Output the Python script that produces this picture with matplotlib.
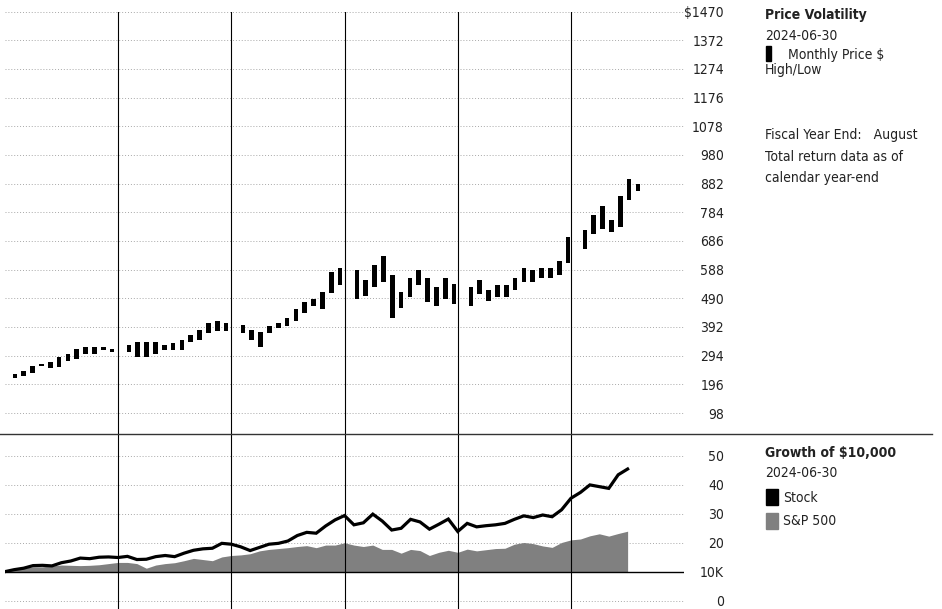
import matplotlib
matplotlib.use("Agg")
import matplotlib.pyplot as plt
from matplotlib.lines import Line2D
from matplotlib.patches import Rectangle
from matplotlib import font_manager
import numpy as np

# narrow face if present, else condensed DejaVu
_names = {f.name for f in font_manager.fontManager.ttflist}
if 'Liberation Sans Narrow' in _names:
    plt.rcParams['font.family'] = ['Liberation Sans Narrow', 'DejaVu Sans']
else:
    plt.rcParams['font.family'] = ['DejaVu Sans']
    plt.rcParams['font.stretch'] = 'condensed'

# monthly price high/low, Jan 2019 .. Jul 2024
price_high = [232, 240, 260, 267, 271, 288, 301, 318, 325, 322, 325, 318,
              332, 342, 342, 342, 332, 336, 349, 366, 383, 404, 411, 407,
              400, 380, 376, 394, 407, 421, 452, 479, 489, 513, 581, 592,
              588, 554, 605, 633, 568, 510, 561, 585, 561, 530, 561, 540,
              530, 551, 520, 534, 534, 561, 592, 588, 592, 595, 619, 701,
              725, 773, 807, 759, 841, 896, 879]
price_low = [217, 224, 234, 258, 251, 255, 277, 281, 301, 298, 312, 305,
             305, 288, 291, 298, 312, 312, 315, 339, 349, 370, 377, 377,
             370, 346, 325, 370, 387, 394, 411, 441, 462, 452, 507, 534,
             486, 499, 530, 547, 424, 458, 496, 537, 479, 465, 489, 469,
             465, 503, 482, 496, 493, 520, 544, 547, 558, 558, 568, 609,
             657, 711, 728, 715, 735, 827, 858]

# growth of 10,000 (thousands), month-end from Dec 2018 to Jun 2024
stock = [10.0, 10.7, 11.2, 12.1, 12.2, 12.0, 13.1, 13.7, 14.7, 14.5, 15.0, 15.1,
         14.9, 15.3, 14.2, 14.3, 15.2, 15.6, 15.2, 16.4, 17.4, 17.9, 18.1, 19.8,
         19.5, 18.6, 17.3, 18.4, 19.5, 19.8, 20.6, 22.5, 23.6, 23.3, 25.8, 27.9,
         29.4, 26.2, 26.9, 29.9, 27.5, 24.4, 25.0, 28.1, 27.2, 24.7, 26.4, 28.2,
         23.9, 26.7, 25.5, 25.9, 26.2, 26.7, 28.1, 29.3, 28.7, 29.6, 29.0, 31.4,
         35.4, 37.4, 40.0, 39.4, 38.8, 43.5, 45.5]
sp500 = [10.0, 10.6, 11.2, 11.7, 11.7, 12.0, 12.3, 12.2, 12.1, 12.2, 12.4, 12.8,
         13.2, 13.2, 12.8, 11.2, 12.3, 12.8, 13.1, 13.8, 14.6, 14.2, 13.8, 15.1,
         15.6, 15.8, 16.2, 17.2, 17.7, 18.0, 18.3, 18.7, 19.0, 18.3, 19.2, 19.2,
         20.0, 19.2, 18.7, 19.2, 17.7, 17.7, 16.4, 17.7, 17.3, 15.6, 16.7, 17.4,
         16.7, 17.8, 17.2, 17.6, 18.0, 18.1, 19.5, 20.1, 19.7, 18.9, 18.4, 20.1,
         21.0, 21.3, 22.4, 23.1, 22.3, 23.2, 24.0]

price_ticks = [98, 196, 294, 392, 490, 588, 686, 784, 882, 980, 1078, 1176, 1274, 1372, 1470]
price_labels = [str(t) for t in price_ticks[:-1]] + ['$1470']
growth_ticks = [0, 10, 20, 30, 40, 50]
growth_labels = ['0', '10K', '20', '30', '40', '50']

W, H = 942, 609
fig = plt.figure(figsize=(W / 100, H / 100), dpi=100)


def px_axes(x0, y0, x1, y1):
    return fig.add_axes([x0 / W, 1 - y1 / H, (x1 - x0) / W, (y1 - y0) / H])


def ftext(x, y, s, **kw):
    kw.setdefault('va', 'center')
    kw.setdefault('fontsize', 10)
    kw.setdefault('color', '#222222')
    fig.text(x / W, 1 - y / H, s, **kw)


ax_top = px_axes(4.75, 11.5, 684.25, 434)
ax_bot = px_axes(4.75, 434, 684.25, 609)

# bar positions (years from start): 12 bars per year with a gap at year end
n = len(price_high)
yr = np.arange(n) // 12
mo = np.arange(n) % 12
bar_x = 0.09 + yr * 1.0066 + mo * 0.078
hi = np.array(price_high)
lo = np.array(price_low)
ax_top.bar(bar_x, hi - lo, bottom=lo, width=0.042, color='black', zorder=3)

months = np.arange(len(stock)) / 12.0
ax_bot.fill_between(months, 10, sp500, color='#808080', lw=0, zorder=2)
ax_bot.plot(months, stock, color='black', lw=2.3, zorder=4, solid_joinstyle='miter')
ax_bot.axhline(10, color='black', lw=1, zorder=3)

for ax in (ax_top, ax_bot):
    ax.set_xlim(0, 6)
    for s in ax.spines.values():
        s.set_visible(False)
    ax.set_xticks([])
    ax.yaxis.tick_right()
    ax.tick_params(axis='y', length=0, pad=28.6, labelsize=10, labelcolor='#222222')
    ax.grid(axis='y', linestyle=(0, (1, 2)), color='#a8a8a8', lw=0.7)
    ax.set_axisbelow(True)
    for x in range(1, 6):
        ax.axvline(x, color='black', lw=0.8, zorder=5)

ax_top.set_ylim(26.3, 1470)
ax_top.set_yticks(price_ticks)
ax_top.set_yticklabels(price_labels)
ax_bot.set_ylim(-2.9, 57.6)
ax_bot.set_yticks(growth_ticks)
ax_bot.set_yticklabels(growth_labels)
for ax in (ax_top, ax_bot):
    for lbl in ax.get_yticklabels():
        lbl.set_horizontalalignment('right')

# divider between panels
fig.add_artist(Line2D([0, 932 / W], [1 - 434 / H] * 2, transform=fig.transFigure,
                      color='#333333', lw=1))

# right-hand notes
ftext(765, 15, 'Price Volatility', fontweight='bold')
ftext(765, 36, '2024-06-30')
fig.add_artist(Rectangle((765.7 / W, 1 - 61 / H), 5 / W, 15 / H, color='black',
                         transform=fig.transFigure))
ftext(788, 55, 'Monthly Price $')
ftext(765, 70, 'High/Low')
ftext(765, 135, 'Fiscal Year End:   August')
ftext(765, 157, 'Total return data as of')
ftext(765, 178, 'calendar year-end')

ftext(765, 453, 'Growth of $10,000', fontweight='bold')
ftext(765, 473, '2024-06-30')
fig.add_artist(Rectangle((765.7 / W, 1 - 505 / H), 12 / W, 16 / H, color='black',
                         transform=fig.transFigure))
ftext(783, 498, 'Stock')
fig.add_artist(Rectangle((765.7 / W, 1 - 529 / H), 12 / W, 16 / H, color='#808080',
                         transform=fig.transFigure))
ftext(783, 521, 'S&P 500')

fig.savefig('out.png', dpi=100)
